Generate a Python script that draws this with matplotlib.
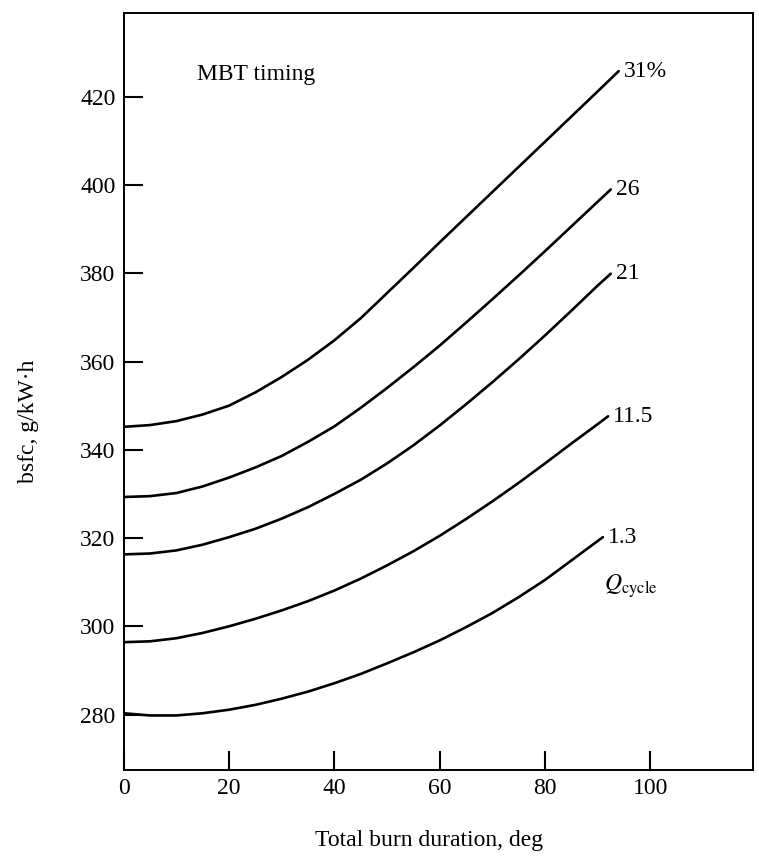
import matplotlib
matplotlib.use("Agg")
import matplotlib.pyplot as plt

# CONFIG
plt.rcParams['font.family'] = ['Liberation Serif', 'DejaVu Serif']
plt.rcParams['mathtext.fontset'] = 'stix'

# data (burn duration in deg, bsfc in g/kW.h)
burn_31 = [0, 5, 10, 15, 20, 25, 30, 35, 40, 45, 50, 55, 60, 65, 70, 75, 80, 85, 90, 94]
bsfc_31 = [345.2, 345.6, 346.5, 348, 350, 353, 356.5, 360.4, 364.8, 369.8, 375.5, 381.2,
           387, 392.7, 398.4, 404.1, 409.8, 415.5, 421.2, 425.8]

burn_26 = [0, 5, 10, 15, 20, 25, 30, 35, 40, 45, 50, 55, 60, 65, 70, 75, 80, 85, 90, 92.5]
bsfc_26 = [329.3, 329.5, 330.2, 331.7, 333.7, 336, 338.6, 341.8, 345.3, 349.5, 354, 358.7,
           363.6, 368.8, 374.1, 379.5, 385, 390.6, 396.2, 399]

burn_21 = [0, 5, 10, 15, 20, 25, 30, 35, 40, 45, 50, 55, 60, 65, 70, 75, 80, 85, 90, 92.5]
bsfc_21 = [316.3, 316.5, 317.2, 318.5, 320.2, 322.1, 324.4, 327, 330, 333.2, 336.9, 341,
           345.5, 350.3, 355.3, 360.5, 365.9, 371.5, 377.2, 379.9]

burn_115 = [0, 5, 10, 15, 20, 25, 30, 35, 40, 45, 50, 55, 60, 65, 70, 75, 80, 85, 90, 92]
bsfc_115 = [296.4, 296.6, 297.3, 298.5, 300, 301.7, 303.6, 305.7, 308.1, 310.8, 313.8, 317,
            320.5, 324.3, 328.3, 332.5, 336.9, 341.4, 345.8, 347.6]

burn_13 = [0, 5, 10, 15, 20, 25, 30, 35, 40, 45, 50, 55, 60, 65, 70, 75, 80, 85, 91]
bsfc_13 = [280.3, 279.8, 279.8, 280.3, 281.1, 282.2, 283.6, 285.2, 287.1, 289.2, 291.6,
           294.1, 296.8, 299.8, 303, 306.6, 310.5, 314.9, 320.2]

curve_labels = ['31%', '26', '21', '11.5', '1.3']
x_ticks = [0, 20, 40, 60, 80, 100]
y_ticks = [280, 300, 320, 340, 360, 380, 400, 420]


def main():
    fig = plt.figure(figsize=(7.59, 8.61), dpi=100)
    ax = fig.add_axes([0.163, 0.106, 0.829, 0.879])

    curves = [(burn_31, bsfc_31), (burn_26, bsfc_26), (burn_21, bsfc_21),
              (burn_115, bsfc_115), (burn_13, bsfc_13)]

    for (xs, ys), lab in zip(curves, curve_labels):
        ax.plot(xs, ys, color='black', linewidth=1.9, solid_capstyle='round',
                solid_joinstyle='round')
        # label sits just past the end of each curve
        ax.text(xs[-1] + 1.0, ys[-1], lab, fontsize=17, ha='left', va='center')

    ax.text(burn_13[-1] + 0.2, bsfc_13[-1] - 11, r'$Q_{\mathrm{cycle}}$',
            fontsize=17, ha='left', va='center')
    ax.text(13.9, 425, 'MBT timing', fontsize=17, ha='left', va='center')

    # axes formatting
    ax.set_xlim(0, 119.5)
    ax.set_ylim(267.5, 439)
    ax.set_xticks(x_ticks)
    ax.set_yticks(y_ticks)
    ax.tick_params(direction='in', length=14, width=1.5, labelsize=17, pad=6)
    for side in ['left', 'bottom', 'top', 'right']:
        ax.spines[side].set_linewidth(1.4)

    ax.set_xlabel('Total burn duration, deg', fontsize=17)
    ax.set_ylabel('bsfc, g/kW\u00b7h', fontsize=17)
    ax.xaxis.set_label_coords(0.485, -0.08)
    ax.yaxis.set_label_coords(-0.135, 0.46)

    fig.savefig('out.png', dpi=100)


if __name__ == '__main__':
    main()
